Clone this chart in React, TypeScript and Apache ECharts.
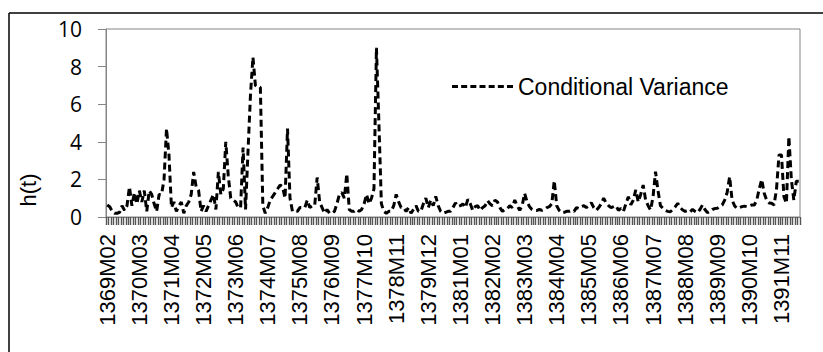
import React, { useEffect, useRef } from "react";
import * as echarts from "echarts";

const startYear = 1369;
const startMonth = 2;
const monthCount = 281;

const categories: string[] = [];
for (let k = 0; k < monthCount; k++) {
  const m0 = startMonth - 1 + k;
  const y = startYear + Math.floor(m0 / 12);
  const m = (m0 % 12) + 1;
  categories.push(`${y}M${m < 10 ? "0" + m : m}`);
}

const conditionalVariance: number[] = [
  0.64, 0.55, 0.3, 0.2, 0.2, 0.25, 0.6, 0.35, 0.6, 1.6,
  0.6, 1.3, 0.7, 1.4, 0.8, 1.4, 0.3, 1.4, 1.2, 0.7,
  0.3, 1.2, 1.2, 2.0, 4.7, 3.3, 0.5, 0.8, 0.3, 0.6,
  0.8, 0.2, 0.6, 0.8, 1.2, 2.4, 1.6, 1.4, 0.3, 0.6,
  0.3, 0.6, 0.9, 1.2, 0.4, 2.4, 1.2, 1.5, 4.0, 2.2,
  1.0, 0.9, 0.8, 0.5, 0.5, 3.7, 0.4, 3.5, 6.5, 8.5,
  7.0, 6.9, 6.9, 0.6, 0.2, 0.5, 0.9, 1.1, 1.3, 1.5,
  1.7, 1.6, 1.0, 4.7, 1.0, 0.3, 0.3, 0.3, 0.5, 0.5,
  0.5, 0.9, 0.5, 0.6, 0.6, 2.1, 0.8, 0.5, 0.2, 0.4,
  0.2, 0.2, 0.3, 0.7, 1.2, 1.3, 1.0, 2.3, 0.4, 0.3,
  0.3, 0.4, 0.3, 0.4, 0.7, 1.2, 0.7, 1.0, 1.5, 9.0,
  5.0, 0.7, 0.3, 0.2, 0.3, 0.3, 0.6, 1.2, 0.8, 0.5,
  0.5, 0.3, 0.5, 0.2, 0.4, 0.6, 0.3, 0.3, 0.7, 1.0,
  0.5, 0.9, 0.6, 1.1, 0.6, 0.3, 0.2, 0.25, 0.3, 0.3,
  0.5, 0.75, 0.55, 0.6, 0.7, 0.5, 0.94, 0.7, 0.35, 0.55,
  0.6, 0.35, 0.5, 0.6, 0.87, 0.7, 0.6, 0.9, 0.8, 0.5,
  0.3, 0.4, 0.45, 0.6, 0.5, 0.9, 0.6, 0.35, 0.6, 1.26,
  0.8, 0.55, 0.4, 0.35, 0.35, 0.4, 0.35, 0.4, 0.5, 0.55,
  0.7, 1.93, 0.6, 0.35, 0.23, 0.25, 0.3, 0.3, 0.35, 0.3,
  0.5, 0.45, 0.55, 0.6, 0.5, 0.6, 0.76, 0.5, 0.35, 0.5,
  0.7, 1.0, 0.74, 0.6, 0.5, 0.55, 0.6, 0.35, 0.46, 0.3,
  0.7, 1.08, 0.65, 0.9, 1.44, 0.8, 1.2, 1.7, 0.9, 0.6,
  0.37, 1.08, 2.41, 1.4, 0.6, 0.46, 0.35, 0.3, 0.28, 0.4,
  0.55, 0.73, 0.5, 0.37, 0.3, 0.35, 0.28, 0.4, 0.3, 0.23,
  0.4, 0.64, 0.4, 0.23, 0.3, 0.4, 0.45, 0.46, 0.55, 0.64,
  0.9, 1.3, 2.14, 0.9, 0.6, 0.46, 0.5, 0.55, 0.58, 0.55,
  0.6, 0.64, 0.64, 0.9, 1.5, 2.0, 1.26, 0.9, 0.75, 0.73,
  0.64, 1.5, 3.3, 3.3, 1.08, 0.73, 4.27, 2.0, 0.9, 1.9,
  1.9,
];

const yTicks = { min: 0, max: 10, interval: 2 };
const seriesName = "Conditional Variance";
const yAxisTitle = "h(t)";

// legend key: seven short dashes (61 x 3)
const legendDashes =
  "path://M0,0h6v3h-6z M9.2,0h6v3h-6z M18.4,0h6v3h-6z M27.6,0h6v3h-6z M36.8,0h6v3h-6z M46,0h6v3h-6z M55.2,0h6v3h-6z";

export default function App() {
  const ref = useRef<HTMLDivElement>(null);
  useEffect(() => {
    if (!ref.current) return;
    const chart = echarts.init(ref.current, undefined, { renderer: "svg" });
    const gray = "#858585";
    chart.setOption({
      animation: false,
      backgroundColor: "#ffffff",
      grid: {
        left: 106,
        top: 29,
        right: 23,
        bottom: 135,
        show: true,
        borderColor: gray,
        borderWidth: 1,
        containLabel: false,
      },
      legend: {
        left: 447,
        top: 70,
        itemWidth: 61,
        itemHeight: 3,
        itemGap: 9,
        icon: legendDashes,
        data: [seriesName],
        itemStyle: { color: "#000" },
        textStyle: {
          fontFamily: "Liberation Sans",
          fontSize: 23,
          color: "#000",
        },
      },
      xAxis: {
        type: "category",
        data: categories,
        boundaryGap: true,
        axisLine: { show: true, lineStyle: { color: gray, width: 1 } },
        axisTick: {
          show: true,
          interval: 0,
          length: 8,
          lineStyle: { color: "#555555", width: 1.4 },
        },
        axisLabel: {
          interval: 12,
          rotate: 90,
          margin: 17,
          fontFamily: "Liberation Sans",
          fontSize: 22,
          color: "#000",
        },
        splitLine: { show: false },
      },
      yAxis: {
        type: "value",
        min: yTicks.min,
        max: yTicks.max,
        interval: yTicks.interval,
        axisLine: { show: true, lineStyle: { color: gray, width: 1 } },
        axisTick: { show: true, length: 8, lineStyle: { color: gray, width: 1 } },
        axisLabel: {
          margin: 24,
          fontFamily: "Open Sans",
          fontSize: 21,
          color: "#000",
        },
        splitLine: { show: false },
      },
      series: [
        {
          name: seriesName,
          type: "line",
          data: conditionalVariance,
          symbol: "none",
          showSymbol: false,
          lineStyle: { color: "#000", width: 3, type: [7, 4] },
          itemStyle: { color: "#000" },
        },
      ],
      graphic: [
        {
          type: "line",
          shape: { x1: 9, y1: 13, x2: 823, y2: 13 },
          style: { stroke: "#000", lineWidth: 1.5 },
        },
        {
          type: "line",
          shape: { x1: 9, y1: 13, x2: 9, y2: 352 },
          style: { stroke: "#000", lineWidth: 1.5 },
        },
        {
          type: "text",
          x: 28,
          y: 190,
          rotation: Math.PI / 2,
          style: {
            text: yAxisTitle,
            fontFamily: "Liberation Sans",
            fontSize: 22,
            fill: "#000",
            align: "center",
            verticalAlign: "middle",
          },
        },
      ],
    });
    return () => chart.dispose();
  }, []);
  return (
    <div
      ref={ref}
      style={{ position: "fixed", left: 0, top: 0, width: 823, height: 352 }}
    />
  );
}
